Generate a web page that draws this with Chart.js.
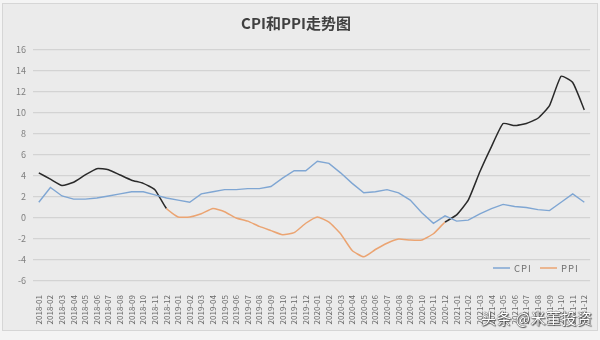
<!DOCTYPE html>
<html lang="zh">
  <head>
    <meta charset="UTF-8" />
    <title>CPI和PPI走势图</title>
    <script src="https://cdn.jsdelivr.net/npm/chart.js"></script>
    <style>
      body {
        margin: 0;
        padding: 0;
        background: #f4f4f4;
        font-family: "Noto Sans CJK SC", sans-serif;
      }
      .wrap {
        position: absolute;
        left: 0;
        top: 0;
        width: 600px;
        height: 340px;
      }
      .mark {
        position: absolute;
        left: 481px;
        top: 307px;
        font-size: 15px;
        color: #fff;
        letter-spacing: 0.5px;
        text-shadow: 0 0 1px #333, 0 0 1px #333, 1px 1px 1px #555;
      }
    </style>
  </head>
  <body>
    <div class="wrap">
      <canvas id="chart" width="600" height="340"></canvas>
      <span class="mark">头条 @米董投资</span>
    </div>

    <script>
      // months 2018-01 .. 2021-12
      const months = [
        "2018-01", "2018-02", "2018-03", "2018-04", "2018-05", "2018-06",
        "2018-07", "2018-08", "2018-09", "2018-10", "2018-11", "2018-12",
        "2019-01", "2019-02", "2019-03", "2019-04", "2019-05", "2019-06",
        "2019-07", "2019-08", "2019-09", "2019-10", "2019-11", "2019-12",
        "2020-01", "2020-02", "2020-03", "2020-04", "2020-05", "2020-06",
        "2020-07", "2020-08", "2020-09", "2020-10", "2020-11", "2020-12",
        "2021-01", "2021-02", "2021-03", "2021-04", "2021-05", "2021-06",
        "2021-07", "2021-08", "2021-09", "2021-10", "2021-11", "2021-12",
      ];

      const cpi = [
        1.5, 2.9, 2.1, 1.8, 1.8, 1.9, 2.1, 2.3, 2.5, 2.5, 2.2, 1.9,
        1.7, 1.5, 2.3, 2.5, 2.7, 2.7, 2.8, 2.8, 3.0, 3.8, 4.5, 4.5,
        5.4, 5.2, 4.3, 3.3, 2.4, 2.5, 2.7, 2.4, 1.7, 0.5, -0.5, 0.2,
        -0.3, -0.2, 0.4, 0.9, 1.3, 1.1, 1.0, 0.8, 0.7, 1.5, 2.3, 1.5,
      ];

      const ppi = [
        4.3, 3.7, 3.1, 3.4, 4.1, 4.7, 4.6, 4.1, 3.6, 3.3, 2.7, 0.9,
        0.1, 0.1, 0.4, 0.9, 0.6, 0.0, -0.3, -0.8, -1.2, -1.6, -1.4, -0.5,
        0.1, -0.4, -1.5, -3.1, -3.7, -3.0, -2.4, -2.0, -2.1, -2.1, -1.5, -0.4,
        0.3, 1.7, 4.4, 6.8, 9.0, 8.8, 9.0, 9.5, 10.7, 13.5, 12.9, 10.3,
      ];

      const seriesNames = ["CPI", "PPI"];
      const blue = "#7fa6d3";
      const orange = "#eba472";
      const dark = "#2a2a2a";

      // frame + background of the chart panel
      const panelPlugin = {
        id: "panel",
        beforeDraw(chart) {
          const c = chart.ctx;
          c.save();
          c.fillStyle = "#ebebeb";
          c.fillRect(2, 3, 595, 328);
          c.strokeStyle = "#d6d6d6";
          c.lineWidth = 1;
          c.strokeRect(2.5, 3.5, 595, 327);
          c.restore();
        },
      };

      // legend drawn inside the plot, bottom right
      const innerLegend = {
        id: "innerLegend",
        afterDraw(chart) {
          const c = chart.ctx;
          const y = 268;
          const items = [
            { x: 493, color: blue, text: seriesNames[0] },
            { x: 540, color: orange, text: seriesNames[1] },
          ];
          c.save();
          c.font = '9.5px "Noto Sans CJK SC", sans-serif';
          c.textBaseline = "middle";
          c.fillStyle = "#707070";
          items.forEach((it) => {
            c.strokeStyle = it.color;
            c.lineWidth = 1.5;
            c.beginPath();
            c.moveTo(it.x, y);
            c.lineTo(it.x + 17, y);
            c.stroke();
            let tx = it.x + 21;
            for (const ch of it.text) {
              c.fillText(ch, tx, y);
              tx += c.measureText(ch).width + 1;
            }
          });
          c.restore();
        },
      };

      Chart.defaults.font.family = '"Noto Sans CJK SC", sans-serif';

      new Chart(document.getElementById("chart"), {
        type: "line",
        data: {
          labels: months,
          datasets: [
            {
              label: seriesNames[0],
              data: cpi,
              borderColor: blue,
              borderWidth: 1.4,
              pointRadius: 0,
              tension: 0,
            },
            {
              label: seriesNames[1],
              data: ppi,
              borderColor: orange,
              borderWidth: 1.5,
              pointRadius: 0,
              tension: 0.15,
              segment: {
                borderColor: (ctx) =>
                  ctx.p0DataIndex >= 11 && ctx.p0DataIndex < 35 ? orange : dark,
              },
            },
          ],
        },
        options: {
          responsive: false,
          animation: false,
          layout: { padding: { top: 0, left: 0, right: 8, bottom: 0 } },
          plugins: {
            legend: { display: false },
            tooltip: { enabled: false },
            title: {
              display: true,
              text: "CPI和PPI走势图",
              color: "#404040",
              font: { size: 15, weight: "bold" },
              padding: { top: 14, bottom: 18 },
            },
          },
          scales: {
            x: {
              offset: true,
              grid: { display: false },
              border: { display: false },
              ticks: {
                autoSkip: false,
                minRotation: 90,
                maxRotation: 90,
                padding: 6,
                color: "#6a6a6a",
                font: { size: 8 },
              },
              afterFit(scale) {
                scale.height = 59;
              },
            },
            y: {
              min: -6,
              max: 16,
              ticks: {
                stepSize: 2,
                padding: 7,
                color: "#7f7f7f",
                font: { size: 9 },
              },
              grid: { color: "#d3d3d3", lineWidth: 1.2, drawTicks: false },
              border: { display: false },
              afterFit(scale) {
                scale.width = 33;
              },
            },
          },
        },
        plugins: [panelPlugin, innerLegend],
      });
    </script>
  </body>
</html>
